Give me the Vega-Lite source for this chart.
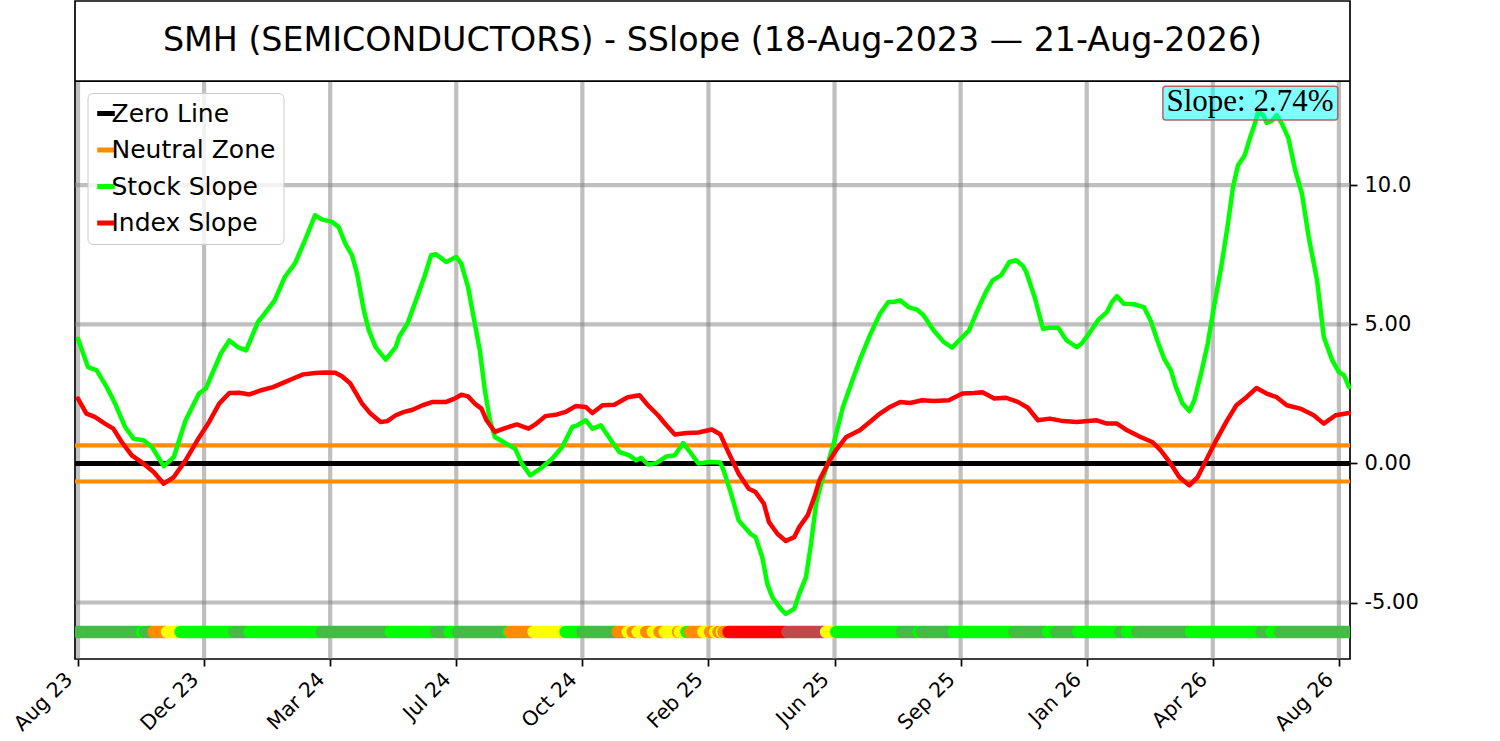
{
  "$schema": "https://vega.github.io/schema/vega-lite/v6.json",
  "background": "white",
  "autosize": {"type": "none"},
  "padding": {"left": 75, "top": 1, "right": 150, "bottom": 82},
  "width": 1275,
  "height": 658,
  "config": {
    "view": {"stroke": "#000000", "strokeWidth": 1.7},
    "font": "DejaVu Sans",
    "axis": {
      "labelFont": "DejaVu Sans",
      "labelFontSize": 21,
      "labelColor": "#000000",
      "tickColor": "#000000",
      "tickWidth": 1.7,
      "tickSize": 7,
      "domain": false,
      "grid": false
    }
  },
  "layer": [
    {
      "data": {"values": [{"g": 0}, {"g": 75}, {"g": 150}, {"g": 225}, {"g": 300}, {"g": 375}, {"g": 450}, {"g": 525}, {"g": 600}, {"g": 675}, {"g": 750}]},
      "mark": {"type": "rule", "stroke": "#808080", "strokeOpacity": 0.5, "strokeWidth": 4.2},
      "encoding": {
        "x": {
          "field": "g", "type": "quantitative", "title": null,
          "scale": {"domain": [-1.78, 756.6], "nice": false, "zero": false},
          "axis": {
            "orient": "bottom",
            "values": [0, 75, 150, 225, 300, 375, 450, 525, 600, 675, 750],
            "labelExpr": "['Aug 23','Dec 23','Mar 24','Jul 24','Oct 24','Feb 25','Jun 25','Sep 25','Jan 26','Apr 26','Aug 26'][round(datum.value / 75)]",
            "labelAngle": -45,
            "labelAlign": "right",
            "labelBaseline": "bottom",
            "labelFontSize": 20.5,
            "labelPadding": 17,
            "labelOffset": -2,
            "labelFlush": false,
            "labelOverlap": false,
            "title": null
          }
        },
        "y": {"datum": -7.03, "type": "quantitative", "scale": {"domain": [-7.03, 16.62], "nice": false, "zero": false}},
        "y2": {"datum": 13.74}
      }
    },
    {
      "data": {"values": [{"g": -5}, {"g": 0}, {"g": 5}, {"g": 10}]},
      "mark": {"type": "rule", "stroke": "#808080", "strokeOpacity": 0.5, "strokeWidth": 4.2},
      "encoding": {
        "y": {
          "field": "g", "type": "quantitative", "title": null,
          "scale": {"domain": [-7.03, 16.62], "nice": false, "zero": false},
          "axis": {
            "orient": "right",
            "values": [-5, 0, 5, 10],
            "labelExpr": "datum.value == 10 ? '10.0' : (datum.value < 0 ? '-' + format(-datum.value, '.2f') : format(datum.value, '.2f'))",
            "labelPadding": 7,
            "labelFlush": false,
            "title": null
          }
        }
      }
    },
    {
      "data": {"values": [
        {"st": "positive", "d": 0, "e": 37},
        {"st": "strong", "d": 38, "e": 39},
        {"st": "positive", "d": 40, "e": 44},
        {"st": "flat", "d": 45, "e": 52},
        {"st": "turning", "d": 53, "e": 60},
        {"st": "strong", "d": 61, "e": 92},
        {"st": "positive", "d": 93, "e": 101},
        {"st": "strong", "d": 102, "e": 144},
        {"st": "positive", "d": 145, "e": 185},
        {"st": "strong", "d": 186, "e": 212},
        {"st": "positive", "d": 213, "e": 220},
        {"st": "strong", "d": 221, "e": 225},
        {"st": "positive", "d": 226, "e": 255},
        {"st": "strong", "d": 256, "e": 256},
        {"st": "flat", "d": 257, "e": 270},
        {"st": "turning", "d": 271, "e": 289},
        {"st": "strong", "d": 290, "e": 299},
        {"st": "positive", "d": 300, "e": 320},
        {"st": "flat", "d": 321, "e": 326},
        {"st": "turning", "d": 327, "e": 329},
        {"st": "flat", "d": 330, "e": 332},
        {"st": "turning", "d": 333, "e": 337},
        {"st": "flat", "d": 338, "e": 341},
        {"st": "turning", "d": 342, "e": 345},
        {"st": "flat", "d": 346, "e": 348},
        {"st": "turning", "d": 349, "e": 356},
        {"st": "flat", "d": 357, "e": 357},
        {"st": "turning", "d": 358, "e": 361},
        {"st": "strong", "d": 362, "e": 363},
        {"st": "flat", "d": 364, "e": 371},
        {"st": "turning", "d": 372, "e": 375},
        {"st": "flat", "d": 376, "e": 378},
        {"st": "turning", "d": 379, "e": 380},
        {"st": "flat", "d": 381, "e": 382},
        {"st": "turning", "d": 383, "e": 383},
        {"st": "flat", "d": 384, "e": 386},
        {"st": "negative", "d": 387, "e": 421},
        {"st": "weak", "d": 422, "e": 444},
        {"st": "turning", "d": 445, "e": 450},
        {"st": "strong", "d": 451, "e": 489},
        {"st": "positive", "d": 490, "e": 499},
        {"st": "strong", "d": 500, "e": 501},
        {"st": "positive", "d": 502, "e": 520},
        {"st": "strong", "d": 521, "e": 556},
        {"st": "positive", "d": 557, "e": 576},
        {"st": "strong", "d": 577, "e": 581},
        {"st": "positive", "d": 582, "e": 594},
        {"st": "strong", "d": 595, "e": 619},
        {"st": "positive", "d": 620, "e": 623},
        {"st": "strong", "d": 624, "e": 629},
        {"st": "positive", "d": 630, "e": 661},
        {"st": "strong", "d": 662, "e": 703},
        {"st": "positive", "d": 704, "e": 709},
        {"st": "strong", "d": 710, "e": 714},
        {"st": "positive", "d": 715, "e": 756}
      ]},
      "mark": {"type": "rule", "strokeWidth": 12.5, "strokeCap": "round", "clip": true},
      "encoding": {
        "x": {"field": "d", "type": "quantitative", "title": null, "scale": {"domain": [-1.78, 756.6], "nice": false, "zero": false}},
        "x2": {"field": "e"},
        "y": {"datum": -6.06, "type": "quantitative", "scale": {"domain": [-7.03, 16.62], "nice": false, "zero": false}},
        "stroke": {
          "field": "st", "type": "nominal", "legend": null,
          "scale": {
            "domain": ["strong", "positive", "flat", "turning", "negative", "weak"],
            "range": ["#00ff00", "#44bb44", "#ff8c00", "#ffff00", "#ff0000", "#c04848"]
          }
        }
      }
    },
    {
      "data": {"values": [{"v": 0}]},
      "mark": {"type": "rule", "strokeWidth": 5},
      "encoding": {
        "y": {"field": "v", "type": "quantitative", "title": null, "scale": {"domain": [-7.03, 16.62], "nice": false, "zero": false}},
        "color": {
          "datum": "Zero Line",
          "scale": {
            "domain": ["Zero Line", "Neutral Zone", "Stock Slope", "Index Slope"],
            "range": ["#000000", "#ff8c00", "#00ff00", "#ff0000"]
          },
          "legend": {
            "title": null,
            "orient": "none",
            "legendX": 12.5,
            "legendY": 92,
            "symbolType": "stroke",
            "symbolSize": 310,
            "symbolStrokeWidth": 5,
            "symbolOffset": -2,
            "labelFont": "DejaVu Sans",
            "labelFontSize": 25,
            "labelColor": "#000000",
            "labelOffset": -7,
            "labelLimit": 400,
            "fillColor": "rgba(255,255,255,0.8)",
            "strokeColor": "#cccccc",
            "cornerRadius": 5,
            "padding": 8,
            "rowPadding": 10.5
          }
        }
      }
    },
    {
      "data": {"values": [{"v": 0.65}, {"v": -0.65}]},
      "mark": {"type": "rule", "strokeWidth": 4.2},
      "encoding": {
        "y": {"field": "v", "type": "quantitative", "title": null, "scale": {"domain": [-7.03, 16.62], "nice": false, "zero": false}},
        "color": {"datum": "Neutral Zone"}
      }
    },
    {
      "data": {"values": [
        {"d": 0, "v": 4.48}, {"d": 6, "v": 3.46}, {"d": 11, "v": 3.35}, {"d": 17, "v": 2.75},
        {"d": 22, "v": 2.16}, {"d": 28, "v": 1.31}, {"d": 33, "v": 0.89}, {"d": 39, "v": 0.83},
        {"d": 44, "v": 0.59}, {"d": 51, "v": -0.1}, {"d": 57, "v": 0.23}, {"d": 64, "v": 1.55},
        {"d": 72, "v": 2.51}, {"d": 76, "v": 2.69}, {"d": 85, "v": 3.95}, {"d": 90, "v": 4.42},
        {"d": 95, "v": 4.18}, {"d": 100, "v": 4.06}, {"d": 107, "v": 5.08}, {"d": 111, "v": 5.38},
        {"d": 117, "v": 5.86}, {"d": 123, "v": 6.7}, {"d": 129, "v": 7.18}, {"d": 135, "v": 8.02},
        {"d": 141, "v": 8.92}, {"d": 145, "v": 8.77}, {"d": 151, "v": 8.68}, {"d": 155, "v": 8.5},
        {"d": 159, "v": 7.9}, {"d": 163, "v": 7.48}, {"d": 166, "v": 6.82}, {"d": 170, "v": 5.5},
        {"d": 173, "v": 4.78}, {"d": 177, "v": 4.18}, {"d": 183, "v": 3.73}, {"d": 189, "v": 4.18},
        {"d": 191, "v": 4.55}, {"d": 196, "v": 5.03}, {"d": 201, "v": 5.86}, {"d": 206, "v": 6.7},
        {"d": 210, "v": 7.48}, {"d": 213, "v": 7.52}, {"d": 219, "v": 7.24}, {"d": 225, "v": 7.42},
        {"d": 228, "v": 7.18}, {"d": 232, "v": 6.34}, {"d": 236, "v": 5.03}, {"d": 239, "v": 4.06},
        {"d": 242, "v": 2.63}, {"d": 245, "v": 1.55}, {"d": 248, "v": 0.95}, {"d": 253, "v": 0.77},
        {"d": 260, "v": 0.53}, {"d": 264, "v": -0.01}, {"d": 269, "v": -0.43}, {"d": 275, "v": -0.19},
        {"d": 282, "v": 0.17}, {"d": 288, "v": 0.59}, {"d": 294, "v": 1.31}, {"d": 297, "v": 1.37},
        {"d": 302, "v": 1.55}, {"d": 306, "v": 1.25}, {"d": 311, "v": 1.37}, {"d": 317, "v": 0.83},
        {"d": 322, "v": 0.41}, {"d": 328, "v": 0.29}, {"d": 332, "v": 0.11}, {"d": 335, "v": 0.2},
        {"d": 339, "v": -0.04}, {"d": 344, "v": 0.01}, {"d": 350, "v": 0.25}, {"d": 355, "v": 0.29},
        {"d": 360, "v": 0.73}, {"d": 364, "v": 0.41}, {"d": 369, "v": 0.0}, {"d": 376, "v": 0.05},
        {"d": 382, "v": 0.03}, {"d": 384, "v": -0.25}, {"d": 388, "v": -1.0}, {"d": 393, "v": -2.05},
        {"d": 400, "v": -2.53}, {"d": 403, "v": -2.65}, {"d": 407, "v": -3.37}, {"d": 410, "v": -4.33},
        {"d": 413, "v": -4.81}, {"d": 418, "v": -5.23}, {"d": 421, "v": -5.41}, {"d": 426, "v": -5.23},
        {"d": 429, "v": -4.69}, {"d": 433, "v": -4.09}, {"d": 436, "v": -2.89}, {"d": 439, "v": -1.45},
        {"d": 442, "v": -0.73}, {"d": 446, "v": -0.01}, {"d": 450, "v": 0.83}, {"d": 455, "v": 2.03},
        {"d": 461, "v": 3.05}, {"d": 465, "v": 3.71}, {"d": 471, "v": 4.6}, {"d": 477, "v": 5.38},
        {"d": 482, "v": 5.8}, {"d": 485, "v": 5.8}, {"d": 489, "v": 5.86}, {"d": 494, "v": 5.62},
        {"d": 499, "v": 5.53}, {"d": 503, "v": 5.32}, {"d": 509, "v": 4.78}, {"d": 515, "v": 4.36},
        {"d": 520, "v": 4.16}, {"d": 525, "v": 4.48}, {"d": 530, "v": 4.78}, {"d": 535, "v": 5.5},
        {"d": 540, "v": 6.16}, {"d": 544, "v": 6.58}, {"d": 549, "v": 6.76}, {"d": 554, "v": 7.24},
        {"d": 558, "v": 7.3}, {"d": 562, "v": 7.1}, {"d": 564, "v": 6.88}, {"d": 569, "v": 5.98},
        {"d": 574, "v": 4.84}, {"d": 578, "v": 4.88}, {"d": 583, "v": 4.88}, {"d": 588, "v": 4.42},
        {"d": 594, "v": 4.18}, {"d": 597, "v": 4.31}, {"d": 602, "v": 4.72}, {"d": 607, "v": 5.17},
        {"d": 612, "v": 5.44}, {"d": 615, "v": 5.8}, {"d": 618, "v": 6.01}, {"d": 622, "v": 5.74},
        {"d": 628, "v": 5.72}, {"d": 634, "v": 5.62}, {"d": 638, "v": 5.14}, {"d": 642, "v": 4.42},
        {"d": 646, "v": 3.77}, {"d": 650, "v": 3.35}, {"d": 653, "v": 2.75}, {"d": 657, "v": 2.15},
        {"d": 661, "v": 1.88}, {"d": 664, "v": 2.27}, {"d": 668, "v": 3.23}, {"d": 672, "v": 4.31},
        {"d": 676, "v": 5.74}, {"d": 680, "v": 7.06}, {"d": 684, "v": 8.62}, {"d": 687, "v": 9.94},
        {"d": 690, "v": 10.72}, {"d": 694, "v": 11.08}, {"d": 697, "v": 11.68}, {"d": 700, "v": 12.22},
        {"d": 702, "v": 12.64}, {"d": 705, "v": 12.52}, {"d": 707, "v": 12.24}, {"d": 710, "v": 12.31},
        {"d": 713, "v": 12.52}, {"d": 716, "v": 12.22}, {"d": 720, "v": 11.68}, {"d": 724, "v": 10.54},
        {"d": 728, "v": 9.7}, {"d": 732, "v": 8.14}, {"d": 737, "v": 6.58}, {"d": 741, "v": 4.54},
        {"d": 746, "v": 3.71}, {"d": 750, "v": 3.28}, {"d": 753, "v": 3.17}, {"d": 756, "v": 2.74}
      ]},
      "mark": {"type": "line", "strokeWidth": 4.5, "strokeJoin": "round", "strokeCap": "round"},
      "encoding": {
        "x": {"field": "d", "type": "quantitative", "title": null, "scale": {"domain": [-1.78, 756.6], "nice": false, "zero": false}},
        "y": {"field": "v", "type": "quantitative", "title": null, "scale": {"domain": [-7.03, 16.62], "nice": false, "zero": false}},
        "color": {"datum": "Stock Slope"}
      }
    },
    {
      "data": {"values": [
        {"d": 0, "v": 2.33}, {"d": 5, "v": 1.79}, {"d": 10, "v": 1.67}, {"d": 16, "v": 1.43},
        {"d": 21, "v": 1.25}, {"d": 26, "v": 0.77}, {"d": 32, "v": 0.29}, {"d": 39, "v": -0.01},
        {"d": 45, "v": -0.31}, {"d": 51, "v": -0.73}, {"d": 57, "v": -0.49}, {"d": 64, "v": 0.11},
        {"d": 71, "v": 0.83}, {"d": 78, "v": 1.49}, {"d": 84, "v": 2.15}, {"d": 90, "v": 2.53},
        {"d": 96, "v": 2.54}, {"d": 102, "v": 2.48}, {"d": 109, "v": 2.63}, {"d": 116, "v": 2.74},
        {"d": 123, "v": 2.92}, {"d": 128, "v": 3.05}, {"d": 134, "v": 3.2}, {"d": 141, "v": 3.25},
        {"d": 147, "v": 3.27}, {"d": 153, "v": 3.26}, {"d": 157, "v": 3.13}, {"d": 162, "v": 2.87},
        {"d": 165, "v": 2.56}, {"d": 169, "v": 2.15}, {"d": 174, "v": 1.79}, {"d": 180, "v": 1.49},
        {"d": 184, "v": 1.52}, {"d": 189, "v": 1.73}, {"d": 194, "v": 1.85}, {"d": 199, "v": 1.93},
        {"d": 205, "v": 2.09}, {"d": 211, "v": 2.21}, {"d": 219, "v": 2.21}, {"d": 224, "v": 2.33},
        {"d": 228, "v": 2.47}, {"d": 232, "v": 2.41}, {"d": 236, "v": 2.15}, {"d": 240, "v": 1.97},
        {"d": 243, "v": 1.55}, {"d": 248, "v": 1.13}, {"d": 254, "v": 1.27}, {"d": 261, "v": 1.4},
        {"d": 268, "v": 1.25}, {"d": 272, "v": 1.4}, {"d": 278, "v": 1.7}, {"d": 285, "v": 1.76},
        {"d": 290, "v": 1.85}, {"d": 296, "v": 2.06}, {"d": 302, "v": 2.03}, {"d": 306, "v": 1.81},
        {"d": 312, "v": 2.09}, {"d": 319, "v": 2.11}, {"d": 327, "v": 2.38}, {"d": 334, "v": 2.45},
        {"d": 339, "v": 2.09}, {"d": 345, "v": 1.73}, {"d": 350, "v": 1.37}, {"d": 355, "v": 1.04},
        {"d": 362, "v": 1.09}, {"d": 369, "v": 1.11}, {"d": 377, "v": 1.22}, {"d": 382, "v": 1.05},
        {"d": 387, "v": 0.38}, {"d": 393, "v": -0.37}, {"d": 399, "v": -0.91}, {"d": 403, "v": -1.03},
        {"d": 408, "v": -1.45}, {"d": 411, "v": -2.11}, {"d": 416, "v": -2.53}, {"d": 421, "v": -2.79},
        {"d": 426, "v": -2.65}, {"d": 429, "v": -2.29}, {"d": 434, "v": -1.87}, {"d": 438, "v": -1.21},
        {"d": 441, "v": -0.61}, {"d": 446, "v": -0.01}, {"d": 451, "v": 0.49}, {"d": 457, "v": 0.95},
        {"d": 465, "v": 1.19}, {"d": 471, "v": 1.49}, {"d": 477, "v": 1.79}, {"d": 483, "v": 2.03},
        {"d": 489, "v": 2.21}, {"d": 495, "v": 2.17}, {"d": 502, "v": 2.27}, {"d": 509, "v": 2.24},
        {"d": 518, "v": 2.27}, {"d": 526, "v": 2.51}, {"d": 533, "v": 2.53}, {"d": 538, "v": 2.56},
        {"d": 545, "v": 2.33}, {"d": 552, "v": 2.36}, {"d": 559, "v": 2.21}, {"d": 565, "v": 2.0},
        {"d": 571, "v": 1.55}, {"d": 578, "v": 1.61}, {"d": 586, "v": 1.52}, {"d": 594, "v": 1.49},
        {"d": 606, "v": 1.55}, {"d": 612, "v": 1.43}, {"d": 618, "v": 1.43}, {"d": 624, "v": 1.19},
        {"d": 632, "v": 0.95}, {"d": 639, "v": 0.77}, {"d": 644, "v": 0.47}, {"d": 650, "v": -0.01},
        {"d": 655, "v": -0.49}, {"d": 661, "v": -0.79}, {"d": 666, "v": -0.49}, {"d": 671, "v": 0.11},
        {"d": 677, "v": 0.83}, {"d": 683, "v": 1.49}, {"d": 689, "v": 2.09}, {"d": 695, "v": 2.38},
        {"d": 701, "v": 2.71}, {"d": 707, "v": 2.51}, {"d": 713, "v": 2.38}, {"d": 719, "v": 2.09},
        {"d": 727, "v": 1.97}, {"d": 735, "v": 1.73}, {"d": 741, "v": 1.43}, {"d": 748, "v": 1.73},
        {"d": 756, "v": 1.81}
      ]},
      "mark": {"type": "line", "strokeWidth": 4.5, "strokeJoin": "round", "strokeCap": "round"},
      "encoding": {
        "x": {"field": "d", "type": "quantitative", "title": null, "scale": {"domain": [-1.78, 756.6], "nice": false, "zero": false}},
        "y": {"field": "v", "type": "quantitative", "title": null, "scale": {"domain": [-7.03, 16.62], "nice": false, "zero": false}},
        "color": {"datum": "Index Slope"}
      }
    },
    {
      "data": {"values": [{"v": 13.74}]},
      "mark": {"type": "rule", "stroke": "#000000", "strokeWidth": 1.7},
      "encoding": {
        "y": {"field": "v", "type": "quantitative", "title": null, "scale": {"domain": [-7.03, 16.62], "nice": false, "zero": false}}
      }
    },
    {
      "data": {"values": [{"title": "SMH (SEMICONDUCTORS) - SSlope (18-Aug-2023 — 21-Aug-2026)"}]},
      "mark": {"type": "text", "font": "DejaVu Sans", "fontSize": 33.3, "color": "#000000", "align": "center", "baseline": "middle"},
      "encoding": {
        "y": {"datum": 15.18, "type": "quantitative", "scale": {"domain": [-7.03, 16.62], "nice": false, "zero": false}},
        "text": {"field": "title"}
      }
    },
    {
      "data": {"values": [{"label": "Slope: 2.74%"}]},
      "mark": {"type": "rect", "fill": "#00ffff", "fillOpacity": 0.5, "stroke": "#b46464", "strokeWidth": 1.5, "cornerRadius": 3},
      "encoding": {
        "x": {"datum": 645.3, "type": "quantitative", "scale": {"domain": [-1.78, 756.6], "nice": false, "zero": false}},
        "x2": {"datum": 749.4},
        "y": {"datum": 13.56, "type": "quantitative", "scale": {"domain": [-7.03, 16.62], "nice": false, "zero": false}},
        "y2": {"datum": 12.34}
      }
    },
    {
      "data": {"values": [{"label": "Slope: 2.74%"}]},
      "mark": {"type": "text", "font": "Liberation Serif", "fontSize": 31, "color": "#000000", "align": "center", "baseline": "alphabetic"},
      "encoding": {
        "x": {"datum": 697.1, "type": "quantitative", "scale": {"domain": [-1.78, 756.6], "nice": false, "zero": false}},
        "y": {"datum": 12.67, "type": "quantitative", "scale": {"domain": [-7.03, 16.62], "nice": false, "zero": false}},
        "text": {"field": "label"}
      }
    }
  ]
}
